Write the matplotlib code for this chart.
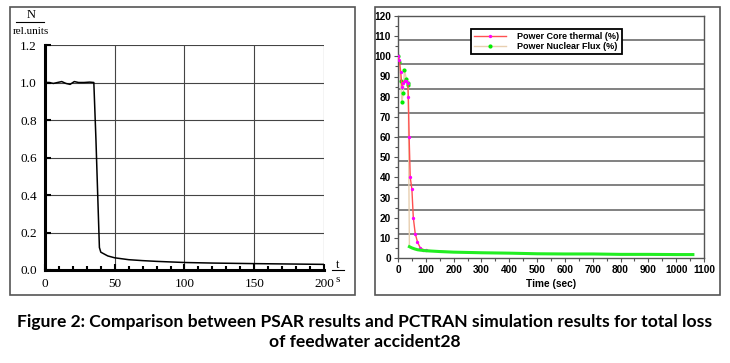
"""
Two-panel comparison: PSAR relative power (left) vs PCTRAN power traces (right).
Output: out.png
"""
import numpy as np
import matplotlib
matplotlib.use("Agg")
import matplotlib.pyplot as plt
from matplotlib.patches import Rectangle
from matplotlib.lines import Line2D

# ---- left panel: PSAR relative power ----
PSAR_T = [0, 3, 6, 9, 12, 15, 18, 21, 24, 28, 32, 35, 36.5, 38, 39, 40, 45, 50,
          60, 70, 80, 100, 120, 150, 175, 200]
PSAR_N = [1.0, 1.0, 0.995, 1.0, 1.005, 0.995, 0.99, 1.005, 1.0, 1.0, 1.002, 1.0,
          0.7, 0.35, 0.12, 0.095, 0.075, 0.065, 0.055, 0.05, 0.046, 0.04, 0.037,
          0.034, 0.032, 0.03]

# ---- right panel: PCTRAN ----
CORE_T = [0, 5, 10, 14, 18, 24, 30, 35, 37, 40, 44, 50, 55, 62, 70, 80, 90, 100,
          150, 200, 300, 400, 500, 600, 700, 800, 900, 1000, 1060]
CORE_P = [100, 98, 92, 85, 87, 88, 88, 87, 80, 60, 40, 34, 20, 12, 8, 5, 4.2, 3.8,
          3.3, 3.0, 2.6, 2.4, 2.1, 2.0, 2.0, 1.8, 1.8, 1.7, 1.7]
FLUX_T = [0, 4, 9, 14, 19, 23, 30, 35, 37, 39, 41, 50, 60, 70, 80, 100, 150, 200,
          300, 400, 500, 600, 700, 800, 900, 1000, 1060]
FLUX_P = [100, 97, 88, 77.5, 82, 93, 89, 87, 86, 40, 5.6, 5.0, 4.5, 4.1, 3.9, 3.6,
          3.2, 2.9, 2.6, 2.4, 2.1, 2.0, 2.0, 1.8, 1.8, 1.7, 1.7]
CORE_LABEL = "Power Core thermal (%)"
FLUX_LABEL = "Power Nuclear Flux (%)"

CAPTION = ("Figure 2: Comparison between PSAR results and PCTRAN simulation results for total loss\n"
           "of feedwater accident28")

W, H = 730, 363


def px_axes(fig, x0, y0, x1, y1):
    # pixel box (top-left origin) -> figure axes
    return fig.add_axes([x0 / W, (H - y1) / H, (x1 - x0) / W, (y1 - y0) / H])


def main():
    fig = plt.figure(figsize=(W / 100, H / 100), dpi=100)

    # outer frames
    for x0, x1 in [(10, 355), (375, 720)]:
        fig.add_artist(Rectangle((x0 / W, (H - 295) / H), (x1 - x0) / W, 288 / H,
                                 transform=fig.transFigure, fill=False,
                                 edgecolor="#555555", lw=1.2))

    # ---- left ----
    serif = "Liberation Serif"
    ax = px_axes(fig, 45, 45, 324, 270)
    ax.plot(PSAR_T, PSAR_N, color="black", lw=1.1)
    ax.set_xlim(0, 200)
    ax.set_ylim(0, 1.2)
    ax.set_xticks([0, 50, 100, 150, 200])
    ax.set_xticks(np.arange(0, 201, 10), minor=True)
    ax.set_yticks(np.arange(0, 1.21, 0.2))
    ax.set_yticklabels([f"{v:.1f}" for v in np.arange(0, 1.21, 0.2)])
    ax.grid(True, color="#444444", lw=0.8)
    for s in ["top", "right"]:
        ax.spines[s].set_visible(False)
    ax.spines["left"].set_linewidth(2.2)
    ax.spines["bottom"].set_linewidth(2.2)
    ax.tick_params(which="both", direction="in", width=1.5)
    ax.tick_params(which="major", length=4, labelsize=9.5, pad=6)
    ax.tick_params(which="minor", length=3)
    for lbl in ax.get_xticklabels() + ax.get_yticklabels():
        lbl.set_family(serif)
    fig.text(31 / W, 1 - 15 / H, "N", family=serif, fontsize=9, ha="center", va="center")
    fig.add_artist(Line2D([16 / W, 44 / W], [1 - 22 / H] * 2, color="black", lw=0.8))
    fig.text(31 / W, 1 - 31 / H, "rel.units", family=serif, fontsize=8, ha="center",
             va="center")
    fig.text(338 / W, 1 - 265 / H, "t", family=serif, fontsize=9, ha="center", va="center")
    fig.add_artist(Line2D([332 / W, 344 / W], [1 - 270 / H] * 2, color="black", lw=0.8))
    fig.text(338 / W, 1 - 280 / H, "s", family=serif, fontsize=8, ha="center", va="center")

    # ---- right ----
    bx = px_axes(fig, 398, 16, 704, 258)
    bx.plot(CORE_T, CORE_P, color="#ff5050", lw=1.0, marker="o", ms=1.4,
            mfc="#ff00ff", mec="#ff00ff", markevery=list(range(18)), zorder=3)
    bx.plot(FLUX_T[:10], FLUX_P[:10], color="#e8cfb0", lw=1.0, marker="o", ms=2.0,
            mfc="#00ee00", mec="#00ee00", markevery=list(range(9)), zorder=2)
    bx.plot(FLUX_T[9:], FLUX_P[9:], color="#e8cfb0", lw=1.0, zorder=2)
    bx.plot(FLUX_T[10:], FLUX_P[10:], color="#22ee22", lw=2.2, zorder=4)
    bx.set_xlim(0, 1100)
    bx.set_ylim(0, 120)
    bx.set_xticks(np.arange(0, 1101, 100))
    bx.set_xticks(np.arange(0, 1101, 50), minor=True)
    bx.set_yticks(np.arange(0, 121, 10))
    bx.set_yticks(np.arange(0, 121, 5), minor=True)
    for y in np.arange(12, 120, 12):
        bx.axhline(y, color="#777777", lw=1.3, zorder=1)
    for s in bx.spines.values():
        s.set_color("#555555")
        s.set_linewidth(1.0)
    bx.tick_params(which="both", direction="out", color="#555555", width=0.8)
    bx.tick_params(which="major", length=3, labelsize=7.3, pad=2)
    bx.tick_params(which="minor", length=2)
    for lbl in bx.get_xticklabels() + bx.get_yticklabels():
        lbl.set_family("Liberation Sans")
        lbl.set_fontweight("bold")
    bx.set_xlabel("Time (sec)", family="Liberation Sans", fontweight="bold",
                  fontsize=7.3, labelpad=3)
    handles = [
        Line2D([], [], color="#ff5050", lw=1.0, marker="o", ms=1.4,
               mfc="#ff00ff", mec="#ff00ff"),
        Line2D([], [], color="#e8cfb0", lw=1.0, marker="o", ms=2.0,
               mfc="#00ee00", mec="#00ee00"),
    ]
    leg = bx.legend(handles, [CORE_LABEL, FLUX_LABEL], loc="upper left",
                    bbox_to_anchor=(73 / 306, 1 - 13 / 242), frameon=True,
                    fancybox=False, framealpha=1, edgecolor="black",
                    prop={"family": "Liberation Sans", "weight": "bold", "size": 6.5},
                    handlelength=3.6, handletextpad=1.2, borderpad=0.3,
                    labelspacing=0.15, borderaxespad=0)
    leg.get_frame().set_linewidth(1.3)
    leg.set_zorder(5)

    # caption
    fig.text(0.5, 1 - 332 / H, CAPTION, ha="center", va="center", family="Lato",
             fontweight="bold", fontsize=12.6, linespacing=1.25)

    fig.savefig("out.png", dpi=100)
    plt.close(fig)


if __name__ == "__main__":
    main()
